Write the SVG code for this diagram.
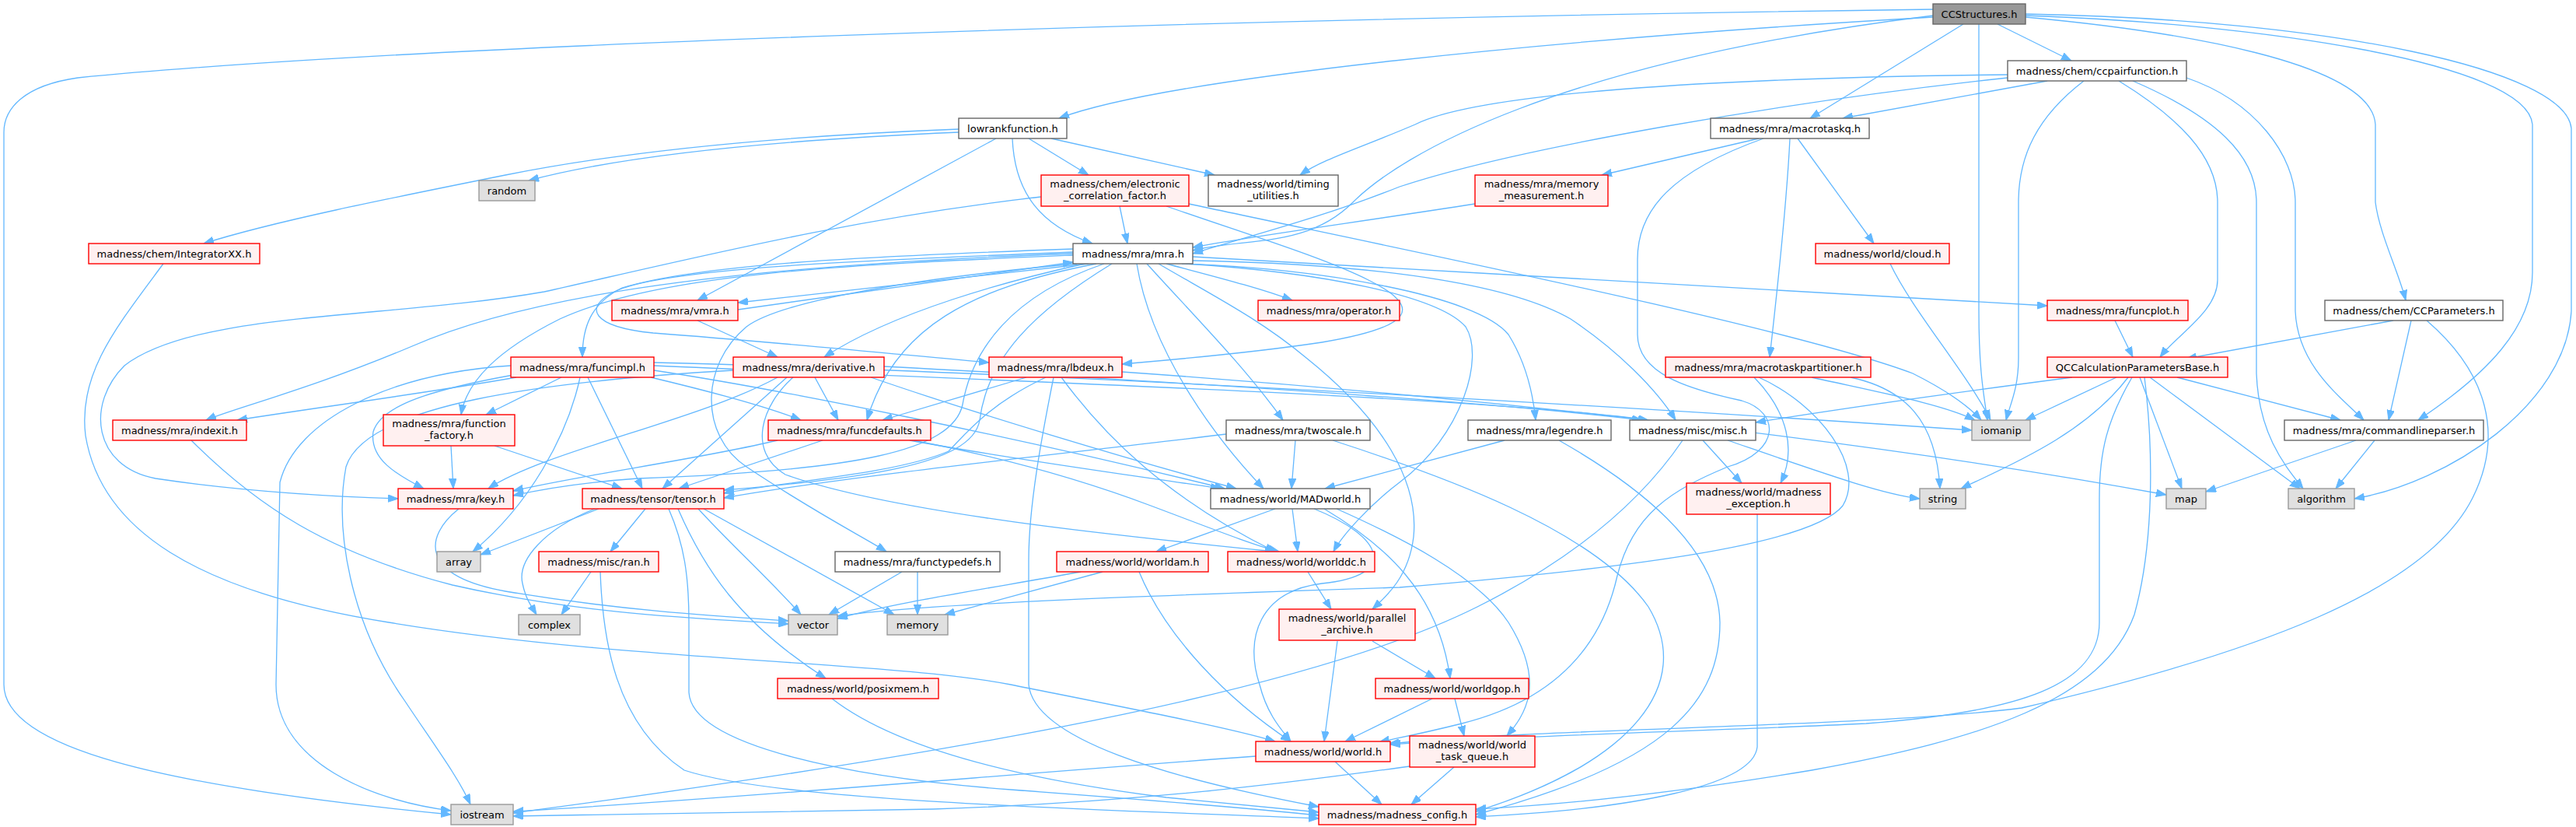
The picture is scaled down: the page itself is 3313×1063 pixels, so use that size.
<svg xmlns="http://www.w3.org/2000/svg" width="3313" height="1063" viewBox="0 0 3313 1063">
<style>
.n text{font-family:"DejaVu Sans","Liberation Sans",sans-serif;font-size:13px;text-anchor:middle;fill:#000}
.n rect{stroke-width:1.4}
.w rect{fill:#fff;stroke:#666}
.r rect{fill:#fff0f0;stroke:#f00}
.g rect{fill:#e0e0e0;stroke:#999}
.root rect{fill:#999;stroke:#666}
#edges path{fill:none;stroke:#63b8ff;stroke-width:1.3;marker-end:url(#ah)}
</style>
<defs>
<marker id="ah" markerUnits="userSpaceOnUse" markerWidth="14" markerHeight="10" refX="13" refY="4.75" orient="auto">
<path d="M0,0 L13,4.75 L0,9.5 z" fill="#63b8ff" stroke="#63b8ff" stroke-width="1"/>
</marker>
</defs>
<rect width="3313" height="1063" fill="#fff"/>
<g id="edges">
<path d="M2486,22 C2000,50 1500,100 1362,152"/>
<path d="M2569,31 L2664,78"/>
<path d="M2525,31 L2328,152"/>
<path d="M2486,20 C2000,80 1800,200 1740,260 S1600,305 1534,322"/>
<path d="M2545,31 L2545,400 C2545,480 2552,510 2556,540"/>
<path d="M2605,22 C2800,40 3050,80 3055,160 L3055,260 C3060,300 3085,350 3094,386"/>
<path d="M2605,20 C2900,30 3250,80 3257,160 L3257,350 C3257,420 3200,480 3110,540"/>
<path d="M2605,18 C3000,25 3300,90 3307,165 L3307,400 C3300,520 3150,620 3028,641"/>
<path d="M2486,12 C1500,25 500,60 100,100 C30,110 5,140 5,170 L5,880 C5,960 200,1010 580,1047"/>
<path d="M2582,96 C2200,100 1900,120 1820,160 C1750,190 1700,205 1672,225"/>
<path d="M2582,100 C2300,130 1950,190 1800,240 C1700,280 1600,305 1534,326"/>
<path d="M2633,104 L2370,152"/>
<path d="M2680,104 C2620,150 2596,200 2596,260 L2596,460 C2596,500 2585,520 2580,540"/>
<path d="M2725,104 C2800,150 2852,200 2852,260 L2852,360 C2852,400 2800,430 2778,459"/>
<path d="M2743,104 C2850,150 2902,200 2902,260 L2902,480 C2905,560 2940,600 2962,628"/>
<path d="M2812,100 C2900,130 2952,200 2952,260 L2952,400 C2955,470 3010,510 3040,540"/>
<path d="M1233,166 C1000,175 800,195 650,225 C500,255 350,285 262,313"/>
<path d="M1233,170 C1000,180 800,200 680,232"/>
<path d="M1281,178 L897,386"/>
<path d="M1302,178 C1305,250 1340,290 1405,313"/>
<path d="M1323,178 L1400,225"/>
<path d="M1352,178 L1562,225"/>
<path d="M1440,265 L1450,313"/>
<path d="M1339,253 C1100,280 900,330 700,375 C500,410 250,400 160,470 C110,520 120,600 200,615 C300,630 420,638 512,641"/>
<path d="M1529,262 C1800,320 2300,420 2460,480 C2500,500 2530,520 2548,540"/>
<path d="M1500,265 C1600,300 1700,330 1760,360 C1830,395 1820,420 1700,440 C1600,455 1500,463 1443,468"/>
<path d="M1897,262 C1750,285 1600,305 1534,318"/>
<path d="M2262,178 L2060,225"/>
<path d="M2312,178 L2410,313"/>
<path d="M2302,178 C2298,260 2285,380 2276,459"/>
<path d="M2268,178 C2150,220 2106,270 2106,333 L2106,430 C2106,480 2170,500 2240,515 C2290,530 2290,580 2222,600 C2150,630 2100,660 2080,740 C2060,830 2000,900 1880,930 C1820,945 1790,950 1774,954"/>
<path d="M2431,339 C2460,400 2530,480 2560,540"/>
<path d="M3078,412 L2812,461"/>
<path d="M3101,412 L3072,540"/>
<path d="M3121,412 C3200,480 3220,560 3180,640 C3120,760 2900,840 2600,910 C2400,935 2000,935 1786,956"/>
<path d="M1400,339 L949,389"/>
<path d="M949,398 L1380,337"/>
<path d="M1500,339 C1560,355 1620,370 1662,386"/>
<path d="M1534,330 C1900,350 2300,375 2633,393"/>
<path d="M1380,320 C1100,330 900,340 800,370 C760,390 749,420 749,459"/>
<path d="M1395,339 C1300,360 1150,400 1060,459"/>
<path d="M1380,324 C1100,335 850,345 790,375 C750,395 760,420 840,428 C1000,440 1150,455 1272,466"/>
<path d="M1410,339 C1250,370 1150,420 1115,540"/>
<path d="M1380,328 C1100,340 850,350 720,410 C640,450 600,490 593,533"/>
<path d="M1380,326 C1000,340 700,370 530,445 C400,500 300,525 265,540"/>
<path d="M1420,339 C1300,380 1250,450 1238,520 C1225,580 1100,605 820,615 C750,620 700,628 660,637"/>
<path d="M1430,339 C1330,400 1270,460 1260,540 C1250,600 1100,615 931,630"/>
<path d="M1475,339 C1530,400 1600,470 1650,540"/>
<path d="M1462,339 C1480,450 1560,560 1625,628"/>
<path d="M1520,339 C1700,345 1900,380 1940,430 C1965,470 1972,510 1975,540"/>
<path d="M1534,335 C1800,340 1950,370 2020,410 C2080,450 2130,500 2155,540"/>
<path d="M1525,339 C1700,350 1850,380 1885,420 C1910,460 1880,560 1800,620 C1760,650 1725,690 1715,709"/>
<path d="M1490,339 C1560,380 1620,410 1680,460 C1780,540 1825,620 1818,690 C1812,740 1785,765 1765,783"/>
<path d="M1385,339 C1150,360 1000,390 960,420 C900,470 900,560 960,600 C1050,660 1110,690 1140,709"/>
<path d="M897,412 L1000,459"/>
<path d="M2720,412 L2743,459"/>
<path d="M2722,485 L2605,540"/>
<path d="M2737,485 C2680,560 2580,600 2522,628"/>
<path d="M2752,485 L2806,628"/>
<path d="M2765,485 L2958,628"/>
<path d="M2800,485 L3010,540"/>
<path d="M2665,485 C2550,500 2400,520 2258,543"/>
<path d="M2742,485 C2710,540 2700,580 2700,640 L2700,800 C2700,880 2600,915 2400,930 C2200,940 1950,945 1788,957"/>
<path d="M2758,485 C2770,580 2770,700 2745,790 C2705,900 2550,950 2330,990 C2150,1020 2000,1035 1898,1040"/>
<path d="M2256,485 C2300,530 2310,580 2290,621"/>
<path d="M2262,485 C2340,520 2400,600 2370,650 C2330,700 2100,730 1800,755 C1500,765 1200,775 1077,792"/>
<path d="M2330,485 C2420,505 2500,520 2540,540"/>
<path d="M2380,485 C2450,500 2490,540 2495,628"/>
<path d="M246,566 C330,650 420,710 582,752 C750,790 900,795 1014,802"/>
<path d="M580,573 L583,628"/>
<path d="M636,573 L800,628"/>
<path d="M664,485 C550,505 400,525 305,540"/>
<path d="M722,485 L625,533"/>
<path d="M660,482 C560,500 490,520 480,555 C475,590 510,610 545,628"/>
<path d="M756,485 L826,628"/>
<path d="M746,485 C730,560 680,650 608,709"/>
<path d="M657,470 C500,480 380,540 360,620 L355,880 C355,980 480,1030 580,1042"/>
<path d="M837,485 C900,500 980,520 1030,540"/>
<path d="M841,476 C1000,500 1300,560 1575,628"/>
<path d="M841,470 C1300,490 1900,510 2120,540"/>
<path d="M841,466 C1400,480 2200,530 2536,553"/>
<path d="M1000,485 C900,540 700,580 628,628"/>
<path d="M1012,485 L852,628"/>
<path d="M1048,485 L1078,540"/>
<path d="M1020,485 C980,520 960,580 1010,610 C1150,660 1450,690 1640,709"/>
<path d="M1120,485 C1250,530 1450,590 1590,628"/>
<path d="M1137,471 C1500,490 1900,515 2112,540"/>
<path d="M943,476 C700,490 470,520 445,600 C430,680 450,800 520,900 C560,960 590,1000 605,1034"/>
<path d="M1320,485 L1135,540"/>
<path d="M1345,485 C1270,520 1240,560 1220,580 C1150,610 1000,620 931,634"/>
<path d="M1355,485 C1340,560 1323,650 1323,720 L1323,880 C1330,950 1500,1000 1696,1037"/>
<path d="M1365,485 C1420,560 1500,640 1640,709"/>
<path d="M1443,478 C1900,510 2400,565 2786,636"/>
<path d="M1000,566 C900,590 750,610 660,631"/>
<path d="M1058,566 L873,628"/>
<path d="M1170,566 C1300,590 1450,610 1570,628"/>
<path d="M1175,566 C1300,590 1400,620 1480,650 C1560,680 1610,700 1645,709"/>
<path d="M1577,558 C1400,580 1100,610 931,640"/>
<path d="M1666,566 L1661,628"/>
<path d="M1714,566 C1850,610 2050,680 2120,780 C2180,880 2100,980 1898,1043"/>
<path d="M1935,566 L1704,628"/>
<path d="M2005,566 C2100,620 2210,700 2212,800 C2212,900 2150,980 1898,1047"/>
<path d="M2190,566 L2240,621"/>
<path d="M2222,566 C2350,610 2420,635 2469,641"/>
<path d="M2164,566 C2100,660 2000,730 1900,780 C1700,880 1300,960 660,1045"/>
<path d="M3030,566 L2837,632"/>
<path d="M3054,566 L3004,628"/>
<path d="M590,654 C545,690 540,740 650,760 C800,785 920,792 1014,798"/>
<path d="M770,654 L618,713"/>
<path d="M765,654 C700,680 665,720 672,750 C676,770 684,780 690,790"/>
<path d="M830,654 L785,709"/>
<path d="M898,654 C940,700 990,745 1030,790"/>
<path d="M905,654 L1150,790"/>
<path d="M872,654 C905,730 950,800 1062,872"/>
<path d="M860,654 C880,700 886,740 886,800 L886,890 C890,960 1100,1000 1300,1015 C1500,1030 1620,1040 1696,1048"/>
<path d="M760,735 L722,790"/>
<path d="M772,735 C775,820 790,930 880,990 C1000,1030 1400,1040 1696,1052"/>
<path d="M1160,735 L1066,790"/>
<path d="M1180,735 L1180,790"/>
<path d="M1390,735 C1250,760 1150,775 1077,795"/>
<path d="M1418,735 L1215,790"/>
<path d="M1465,735 C1500,820 1580,900 1660,953"/>
<path d="M1682,735 L1712,783"/>
<path d="M1640,654 L1487,709"/>
<path d="M1662,654 L1669,709"/>
<path d="M1703,654 C1780,700 1850,760 1865,872"/>
<path d="M1719,654 C1800,690 1900,740 1940,800 C1990,880 1960,920 1938,946"/>
<path d="M1690,654 C1780,690 1800,740 1700,750 C1620,760 1600,820 1620,880 C1630,920 1650,940 1660,953"/>
<path d="M1720,824 L1703,953"/>
<path d="M1765,824 L1846,872"/>
<path d="M1842,898 L1730,953"/>
<path d="M1871,898 L1883,946"/>
<path d="M1717,979 L1777,1034"/>
<path d="M1615,972 C1300,995 900,1030 660,1043"/>
<path d="M1870,986 L1815,1034"/>
<path d="M1813,985 C1700,1000 1500,1030 1200,1040 C1000,1045 800,1046 660,1049"/>
<path d="M2260,661 L2260,960 C2255,1010 2100,1040 1898,1050"/>
<path d="M1070,898 C1150,960 1300,1000 1500,1025 C1600,1035 1650,1040 1696,1044"/>
<path d="M210,339 C150,420 100,480 110,560 C130,680 250,760 500,800 C800,850 1150,850 1300,880 C1450,910 1580,935 1640,953"/>
</g>
<g id="node-CCStructures" class="n root"><rect x="2486" y="5" width="119" height="26"/><text x="2545.5" y="22.5">CCStructures.h</text></g>
<g id="node-ccpairfunction" class="n w"><rect x="2582" y="78" width="230" height="26"/><text x="2697" y="95.5">madness/chem/ccpairfunction.h</text></g>
<g id="node-lowrankfunction" class="n w"><rect x="1233" y="152" width="139" height="26"/><text x="1302.5" y="169.5">lowrankfunction.h</text></g>
<g id="node-macrotaskq" class="n w"><rect x="2200" y="152" width="204" height="26"/><text x="2302" y="169.5">madness/mra/macrotaskq.h</text></g>
<g id="node-random" class="n g"><rect x="616" y="232" width="72" height="26"/><text x="652" y="249.5">random</text></g>
<g id="node-electronic" class="n r"><rect x="1339" y="225" width="190" height="40"/><text x="1434" y="241">madness/chem/electronic</text><text x="1434" y="256">_correlation_factor.h</text></g>
<g id="node-timing" class="n w"><rect x="1554" y="225" width="167" height="40"/><text x="1637.5" y="241">madness/world/timing</text><text x="1637.5" y="256">_utilities.h</text></g>
<g id="node-memory_measurement" class="n r"><rect x="1897" y="225" width="171" height="40"/><text x="1982.5" y="241">madness/mra/memory</text><text x="1982.5" y="256">_measurement.h</text></g>
<g id="node-IntegratorXX" class="n r"><rect x="114" y="313" width="220" height="26"/><text x="224" y="330.5">madness/chem/IntegratorXX.h</text></g>
<g id="node-mra" class="n w"><rect x="1380" y="313" width="154" height="26"/><text x="1457" y="330.5">madness/mra/mra.h</text></g>
<g id="node-cloud" class="n r"><rect x="2335" y="313" width="172" height="26"/><text x="2421" y="330.5">madness/world/cloud.h</text></g>
<g id="node-CCParameters" class="n w"><rect x="2990" y="386" width="229" height="26"/><text x="3104.5" y="403.5">madness/chem/CCParameters.h</text></g>
<g id="node-vmra" class="n r"><rect x="787" y="386" width="162" height="26"/><text x="868" y="403.5">madness/mra/vmra.h</text></g>
<g id="node-operator" class="n r"><rect x="1618" y="386" width="182" height="26"/><text x="1709" y="403.5">madness/mra/operator.h</text></g>
<g id="node-funcplot" class="n r"><rect x="2633" y="386" width="181" height="26"/><text x="2723.5" y="403.5">madness/mra/funcplot.h</text></g>
<g id="node-funcimpl" class="n r"><rect x="657" y="459" width="184" height="26"/><text x="749" y="476.5">madness/mra/funcimpl.h</text></g>
<g id="node-derivative" class="n r"><rect x="943" y="459" width="194" height="26"/><text x="1040" y="476.5">madness/mra/derivative.h</text></g>
<g id="node-lbdeux" class="n r"><rect x="1272" y="459" width="171" height="26"/><text x="1357.5" y="476.5">madness/mra/lbdeux.h</text></g>
<g id="node-macrotaskpartitioner" class="n r"><rect x="2142" y="459" width="264" height="26"/><text x="2274" y="476.5">madness/mra/macrotaskpartitioner.h</text></g>
<g id="node-QCCalculationParametersBase" class="n r"><rect x="2633" y="459" width="232" height="26"/><text x="2749" y="476.5">QCCalculationParametersBase.h</text></g>
<g id="node-indexit" class="n r"><rect x="145" y="540" width="172" height="26"/><text x="231" y="557.5">madness/mra/indexit.h</text></g>
<g id="node-function_factory" class="n r"><rect x="493" y="533" width="169" height="40"/><text x="577.5" y="549">madness/mra/function</text><text x="577.5" y="564">_factory.h</text></g>
<g id="node-funcdefaults" class="n r"><rect x="988" y="540" width="209" height="26"/><text x="1092.5" y="557.5">madness/mra/funcdefaults.h</text></g>
<g id="node-twoscale" class="n w"><rect x="1577" y="540" width="185" height="26"/><text x="1669.5" y="557.5">madness/mra/twoscale.h</text></g>
<g id="node-legendre" class="n w"><rect x="1888" y="540" width="184" height="26"/><text x="1980" y="557.5">madness/mra/legendre.h</text></g>
<g id="node-misc" class="n w"><rect x="2096" y="540" width="162" height="26"/><text x="2177" y="557.5">madness/misc/misc.h</text></g>
<g id="node-iomanip" class="n g"><rect x="2536" y="540" width="75" height="26"/><text x="2573.5" y="557.5">iomanip</text></g>
<g id="node-commandlineparser" class="n w"><rect x="2938" y="540" width="256" height="26"/><text x="3066" y="557.5">madness/mra/commandlineparser.h</text></g>
<g id="node-key" class="n r"><rect x="512" y="628" width="148" height="26"/><text x="586" y="645.5">madness/mra/key.h</text></g>
<g id="node-tensor" class="n r"><rect x="749" y="628" width="182" height="26"/><text x="840" y="645.5">madness/tensor/tensor.h</text></g>
<g id="node-MADworld" class="n w"><rect x="1557" y="628" width="205" height="26"/><text x="1659.5" y="645.5">madness/world/MADworld.h</text></g>
<g id="node-madness_exception" class="n r"><rect x="2169" y="621" width="185" height="40"/><text x="2261.5" y="637">madness/world/madness</text><text x="2261.5" y="652">_exception.h</text></g>
<g id="node-string" class="n g"><rect x="2469" y="628" width="59" height="26"/><text x="2498.5" y="645.5">string</text></g>
<g id="node-map" class="n g"><rect x="2786" y="628" width="51" height="26"/><text x="2811.5" y="645.5">map</text></g>
<g id="node-algorithm" class="n g"><rect x="2943" y="628" width="85" height="26"/><text x="2985.5" y="645.5">algorithm</text></g>
<g id="node-array" class="n g"><rect x="562" y="709" width="56" height="26"/><text x="590" y="726.5">array</text></g>
<g id="node-ran" class="n r"><rect x="693" y="709" width="154" height="26"/><text x="770" y="726.5">madness/misc/ran.h</text></g>
<g id="node-functypedefs" class="n w"><rect x="1074" y="709" width="212" height="26"/><text x="1180" y="726.5">madness/mra/functypedefs.h</text></g>
<g id="node-worldam" class="n r"><rect x="1359" y="709" width="195" height="26"/><text x="1456.5" y="726.5">madness/world/worldam.h</text></g>
<g id="node-worlddc" class="n r"><rect x="1579" y="709" width="189" height="26"/><text x="1673.5" y="726.5">madness/world/worlddc.h</text></g>
<g id="node-complex" class="n g"><rect x="667" y="790" width="79" height="26"/><text x="706.5" y="807.5">complex</text></g>
<g id="node-vector" class="n g"><rect x="1014" y="790" width="63" height="26"/><text x="1045.5" y="807.5">vector</text></g>
<g id="node-memory" class="n g"><rect x="1141" y="790" width="78" height="26"/><text x="1180" y="807.5">memory</text></g>
<g id="node-parallel_archive" class="n r"><rect x="1645" y="783" width="175" height="40"/><text x="1732.5" y="799">madness/world/parallel</text><text x="1732.5" y="814">_archive.h</text></g>
<g id="node-posixmem" class="n r"><rect x="1000" y="872" width="207" height="26"/><text x="1103.5" y="889.5">madness/world/posixmem.h</text></g>
<g id="node-worldgop" class="n r"><rect x="1769" y="872" width="197" height="26"/><text x="1867.5" y="889.5">madness/world/worldgop.h</text></g>
<g id="node-world" class="n r"><rect x="1615" y="953" width="173" height="26"/><text x="1701.5" y="970.5">madness/world/world.h</text></g>
<g id="node-world_task_queue" class="n r"><rect x="1813" y="946" width="161" height="40"/><text x="1893.5" y="962">madness/world/world</text><text x="1893.5" y="977">_task_queue.h</text></g>
<g id="node-iostream" class="n g"><rect x="580" y="1034" width="80" height="26"/><text x="620" y="1051.5">iostream</text></g>
<g id="node-madness_config" class="n r"><rect x="1696" y="1034" width="202" height="26"/><text x="1797" y="1051.5">madness/madness_config.h</text></g>
</svg>
